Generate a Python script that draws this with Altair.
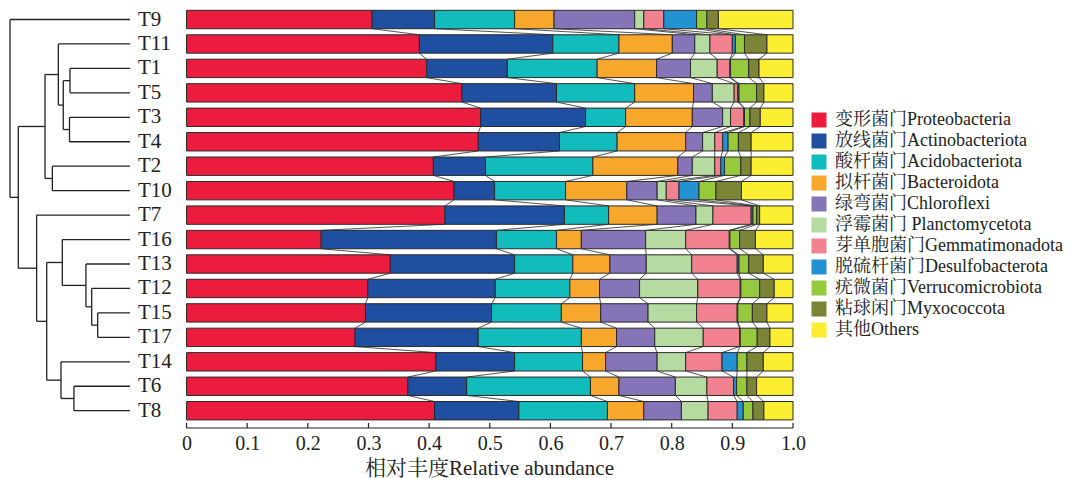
import altair as alt
import pandas as pd

samples = ["T9", "T11", "T1", "T5", "T3", "T4", "T2", "T10", "T7",
           "T16", "T13", "T12", "T15", "T17", "T14", "T6", "T8"]

labels = ["变形菌门Proteobacteria", "放线菌门Actinobacteriota", "酸杆菌门Acidobacteriota",
          "拟杆菌门Bacteroidota", "绿弯菌门Chloroflexi", "浮霉菌门 Planctomycetota",
          "芽单胞菌门Gemmatimonadota", "脱硫杆菌门Desulfobacterota", "疣微菌门Verrucomicrobiota",
          "粘球闲门Myxococcota", "其他Others"]

colors = ["#EC1C3F", "#1E4FA0", "#13BCBC", "#F7A72C", "#8574B8", "#B5DBA0",
          "#F2828F", "#2292D3", "#97C93C", "#7C8438", "#FCEE30"]

proteobacteria = [.306, .384, .396, .454, .485, .481, .407, .441, .426, .222, .336, .299, .295, .278, .411, .365, .409]
actinobacteriota = [.103, .220, .133, .156, .173, .134, .086, .067, .197, .289, .205, .210, .208, .203, .130, .097, .139]
acidobacteriota = [.132, .109, .148, .129, .066, .095, .177, .117, .073, .099, .096, .123, .115, .170, .112, .204, .146]
bacteroidota = [.065, .088, .098, .097, .110, .113, .140, .101, .080, .041, .061, .049, .065, .058, .038, .047, .060]
chloroflexi = [.133, .037, .056, .031, .050, .028, .024, .050, .064, .106, .060, .066, .078, .063, .085, .093, .062]
planctomycetota = [.015, .025, .044, .036, .013, .020, .037, .015, .028, .066, .075, .096, .080, .080, .047, .052, .044]
gemmatimonadota = [.033, .037, .021, .006, .022, .013, .010, .021, .063, .072, .075, .070, .067, .060, .060, .044, .048]
desulfobacterota = [.054, .005, .001, .002, .001, .009, .006, .033, .003, .001, .003, .001, .001, .001, .025, .005, .010]
verrucomicrobiota = [.017, .015, .030, .029, .009, .017, .027, .028, .006, .016, .016, .031, .024, .028, .016, .017, .016]
myxococcota = [.019, .037, .017, .012, .017, .021, .017, .042, .005, .026, .024, .024, .024, .021, .027, .016, .018]
others = [.123, .043, .056, .048, .054, .069, .069, .085, .055, .062, .049, .031, .043, .038, .049, .060, .048]

series = [proteobacteria, actinobacteriota, acidobacteriota, bacteroidota, chloroflexi,
          planctomycetota, gemmatimonadota, desulfobacterota, verrucomicrobiota,
          myxococcota, others]

# dendrogram merges: (name, left, right, height)
merges = [
    ("E", "T1", "T5", 0.500), ("F", "T3", "T4", 0.504), ("D", "E", "F", 0.556),
    ("C", "T11", "D", 0.597), ("G", "T2", "T10", 0.647), ("B", "C", "G", 0.708),
    ("M", "T15", "T17", 0.269), ("L", "T12", "M", 0.319), ("K", "T13", "L", 0.367),
    ("J", "T16", "K", 0.564), ("O", "T6", "T8", 0.467), ("N", "T14", "O", 0.575),
    ("I", "J", "N", 0.694), ("H", "T7", "I", 0.778), ("A", "B", "H", 0.931),
    ("R", "T9", "A", 1.000),
]

ticks = [0, 0.1, 0.2, 0.3, 0.4, 0.5, 0.6, 0.7, 0.8, 0.9, 1.0]

# ---- layout constants ----
W, H = 785, 418
XMIN = -0.2944
YMIN, YMAX = -0.389, 16.707
HALF = 0.376
LEAF_X, SPAN_X = -0.0933, 0.1978
FONT = "Liberation Serif, Noto Serif CJK SC, Noto Sans CJK SC"

# ---- build segment table ----
seg_rows, bounds = [], []
for i, s in enumerate(samples):
    tot = sum(sr[i] for sr in series)
    cum = 0.0
    b = []
    for k, sr in enumerate(series):
        v = sr[i] / tot
        seg_rows.append({"sample": s, "phylum": labels[k], "ord": k,
                         "x0": cum, "x1": cum + v, "y0": i - HALF, "y1": i + HALF})
        cum += v
        b.append(cum)
    bounds.append(b)
seg = pd.DataFrame(seg_rows)

con_rows = []
for i in range(len(samples) - 1):
    for k in range(len(series) - 1):
        con_rows.append({"x0": bounds[i][k], "x1": bounds[i + 1][k],
                         "y0": i + HALF, "y1": i + 1 - HALF})
con = pd.DataFrame(con_rows)

# dendrogram segments
pos = {s: (float(i), 0.0) for i, s in enumerate(samples)}
den_rows = []
def hx(h):
    return LEAF_X - SPAN_X * h
for name, l, r, h in merges:
    yl, hl = pos[l]
    yr, hr = pos[r]
    den_rows.append({"x0": hx(h), "x1": hx(h), "y0": yl, "y1": yr})
    den_rows.append({"x0": hx(h), "x1": hx(hl), "y0": yl, "y1": yl})
    den_rows.append({"x0": hx(h), "x1": hx(hr), "y0": yr, "y1": yr})
    pos[name] = ((yl + yr) / 2, h)
den = pd.DataFrame(den_rows)

lab = pd.DataFrame({"sample": samples, "x0": [hx(0)] * len(samples),
                    "y0": list(range(len(samples)))})
tick_df = pd.DataFrame({"x0": ticks})
axis_df = pd.DataFrame({"x0": [ticks[0]], "x1": [ticks[-1]]})

xs = alt.Scale(domain=[XMIN, 1.0], nice=False, zero=False)
ys = alt.Scale(domain=[YMIN, YMAX], reverse=True, nice=False, zero=False)
xaxis = alt.Axis(values=ticks, domain=False, ticks=False, grid=False,
                 labelFlush=False, labelOverlap=False,
                 labelExpr="datum.value == 0 ? '0' : format(datum.value, '.1f')",
                 labelFont=FONT, labelFontSize=20, labelColor="#222", labelPadding=5,
                 title="相对丰度Relative abundance", titleFont=FONT, titleFontSize=21,
                 titleFontWeight="normal", titleColor="#222", titleX=481, titlePadding=4)

X = lambda: alt.X("x0:Q", scale=xs, axis=xaxis)
Y = lambda: alt.Y("y0:Q", scale=ys, axis=None)

bars = alt.Chart(seg).mark_rect(stroke="#2a2a2a", strokeWidth=1).encode(
    x=X(), x2="x1:Q", y=Y(), y2="y1:Q",
    color=alt.Color("phylum:N", scale=alt.Scale(domain=labels, range=colors),
                    legend=alt.Legend(title=None, orient="none", legendX=802, legendY=101,
                                      symbolType="square", symbolSize=225,
                                      symbolStrokeWidth=0, symbolOpacity=1,
                                      labelFont=FONT, labelFontSize=18, labelColor="#222",
                                      labelOffset=7, labelLimit=400, rowPadding=3,
                                      padding=0)),
    order=alt.Order("ord:Q"),
)

connectors = alt.Chart(con).mark_rule(color="#2a2a2a", strokeWidth=0.8).encode(
    x=X(), x2="x1:Q", y=Y(), y2="y1:Q")

dendro = alt.Chart(den).mark_rule(color="#222", strokeWidth=1.3).encode(
    x=X(), x2="x1:Q", y=Y(), y2="y1:Q")

names = alt.Chart(lab).mark_text(align="left", baseline="middle", dx=8,
                                 font=FONT, fontSize=21, color="#222").encode(
    x=X(), y=Y(), text="sample:N")

axis_line = alt.Chart(axis_df).mark_rule(color="#222", strokeWidth=1.2).encode(
    x=X(), x2="x1:Q", y=alt.value(H))

tick_marks = alt.Chart(tick_df).mark_rule(color="#222", strokeWidth=1.2).encode(
    x=X(), y=alt.value(H - 5), y2=alt.value(H))

chart = alt.layer(connectors, bars, dendro, names, axis_line, tick_marks).properties(
    width=W, height=H, padding=0, background="white"
).configure_view(stroke=None)

chart.save("out.html", embed_options={"renderer": "svg", "actions": False})
